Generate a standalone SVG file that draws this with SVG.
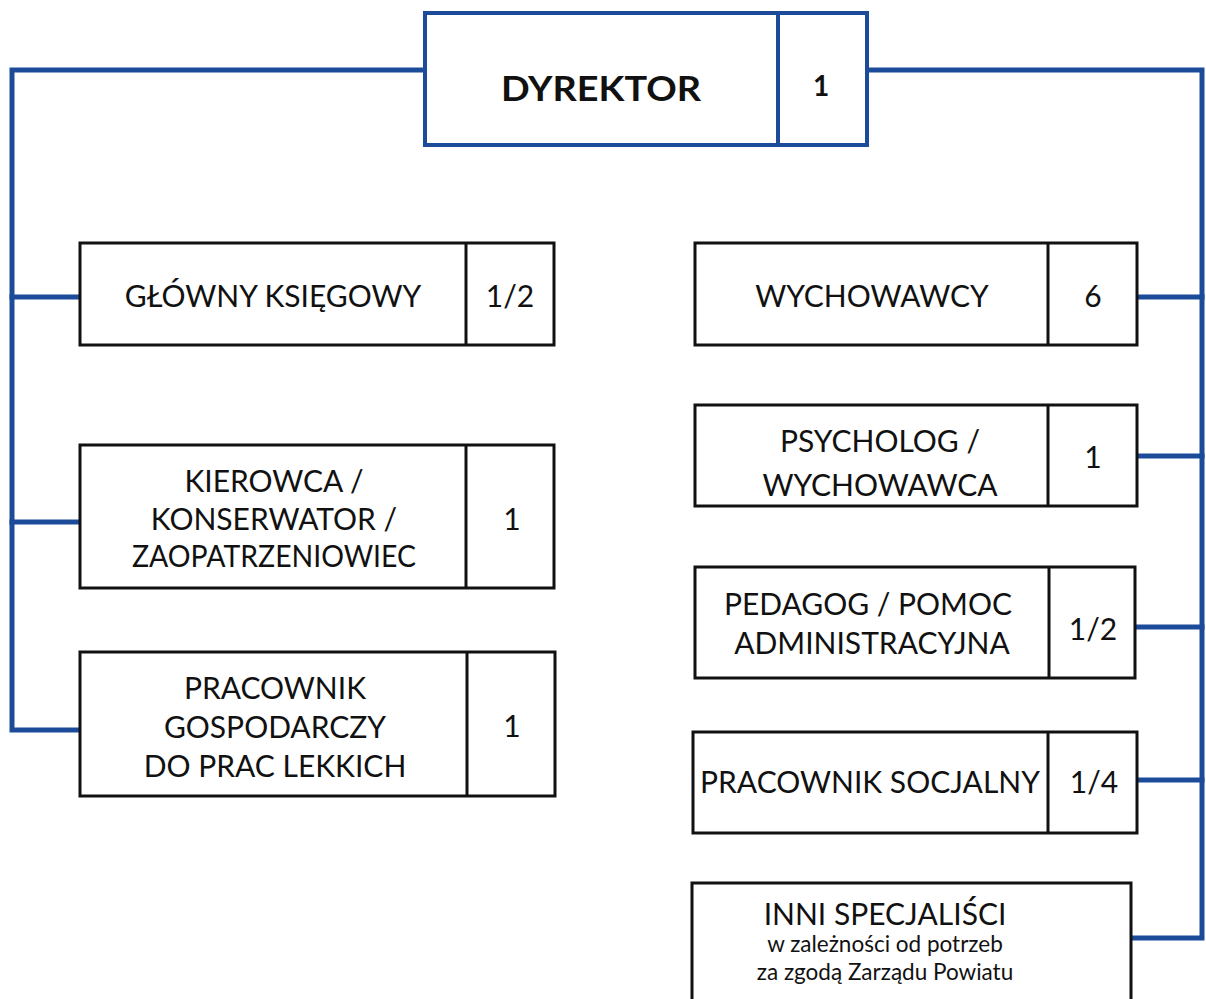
<svg xmlns="http://www.w3.org/2000/svg" width="1206" height="999" viewBox="0 0 1206 999">
<style>
.conn{fill:none;stroke:#1c4b9a;stroke-width:5;stroke-linecap:square;stroke-linejoin:miter}
.box{fill:#fff;stroke:#111;stroke-width:3}
.dbox{fill:#fff;stroke:#1c4b9a;stroke-width:4}
.div{stroke:#111;stroke-width:3}
.ddiv{stroke:#1c4b9a;stroke-width:4}
text{font-family:Lato,"Open Sans","Liberation Sans",sans-serif;fill:#111;text-anchor:middle}
.t{font-size:30px}
.b{font-size:35px;font-weight:bold}
.nb{font-size:28px;font-weight:bold}
.s{font-size:22.5px}
</style>
<rect width="1206" height="999" fill="#fff"/>
<g id="connectors">
<path class="conn" d="M425 70 H12 V730 H80"/>
<path class="conn" d="M12 297 H80"/>
<path class="conn" d="M12 522 H80"/>
<path class="conn" d="M867 70 H1202 V938 H1131"/>
<path class="conn" d="M1137 297 H1202"/>
<path class="conn" d="M1137 456 H1202"/>
<path class="conn" d="M1135 627 H1202"/>
<path class="conn" d="M1137 780 H1202"/>
</g>
<g id="dyrektor">
<rect class="dbox" x="425" y="13" width="442" height="132"/>
<line class="ddiv" x1="778" y1="13" x2="778" y2="145"/>
<text class="b" x="601" y="101" textLength="200" lengthAdjust="spacingAndGlyphs">DYREKTOR</text>
<text class="nb" x="821" y="96">1</text>
</g>
<g id="glowny-ksiegowy">
<rect class="box" x="80" y="243" width="474" height="102"/>
<line class="div" x1="466" y1="243" x2="466" y2="345"/>
<text class="t" x="273" y="307">GŁÓWNY KSIĘGOWY</text>
<text class="t" x="510" y="307">1/2</text>
</g>
<g id="kierowca">
<rect class="box" x="80" y="445" width="474" height="143"/>
<line class="div" x1="466" y1="445" x2="466" y2="588"/>
<text class="t" x="274" y="492">KIEROWCA /</text>
<text class="t" x="274" y="530">KONSERWATOR /</text>
<text class="t" x="274" y="567" textLength="284" lengthAdjust="spacingAndGlyphs">ZAOPATRZENIOWIEC</text>
<text class="t" x="512" y="530">1</text>
</g>
<g id="pracownik-gospodarczy">
<rect class="box" x="80" y="652" width="475" height="144"/>
<line class="div" x1="467" y1="652" x2="467" y2="796"/>
<text class="t" x="275" y="699">PRACOWNIK</text>
<text class="t" x="275" y="738">GOSPODARCZY</text>
<text class="t" x="275" y="777">DO PRAC LEKKICH</text>
<text class="t" x="512" y="737">1</text>
</g>
<g id="wychowawcy">
<rect class="box" x="695" y="243" width="442" height="102"/>
<line class="div" x1="1048" y1="243" x2="1048" y2="345"/>
<text class="t" x="872" y="307">WYCHOWAWCY</text>
<text class="t" x="1093" y="307">6</text>
</g>
<g id="psycholog">
<rect class="box" x="695" y="405" width="442" height="101"/>
<line class="div" x1="1048" y1="405" x2="1048" y2="506"/>
<text class="t" x="880" y="452">PSYCHOLOG /</text>
<text class="t" x="880" y="496">WYCHOWAWCA</text>
<text class="t" x="1093" y="468">1</text>
</g>
<g id="pedagog">
<rect class="box" x="695" y="567" width="440" height="111"/>
<line class="div" x1="1049" y1="567" x2="1049" y2="678"/>
<text class="t" x="868" y="615">PEDAGOG / POMOC</text>
<text class="t" x="872" y="654">ADMINISTRACYJNA</text>
<text class="t" x="1093" y="640">1/2</text>
</g>
<g id="pracownik-socjalny">
<rect class="box" x="693" y="732" width="444" height="101"/>
<line class="div" x1="1048" y1="732" x2="1048" y2="833"/>
<text class="t" x="870" y="793">PRACOWNIK SOCJALNY</text>
<text class="t" x="1094" y="793">1/4</text>
</g>
<g id="inni-specjalisci">
<rect class="box" x="692" y="883" width="439" height="122"/>
<text class="t" x="885" y="925">INNI SPECJALIŚCI</text>
<text class="s" x="885" y="952">w zależności od potrzeb</text>
<text class="s" x="885" y="980">za zgodą Zarządu Powiatu</text>
</g>
</svg>
